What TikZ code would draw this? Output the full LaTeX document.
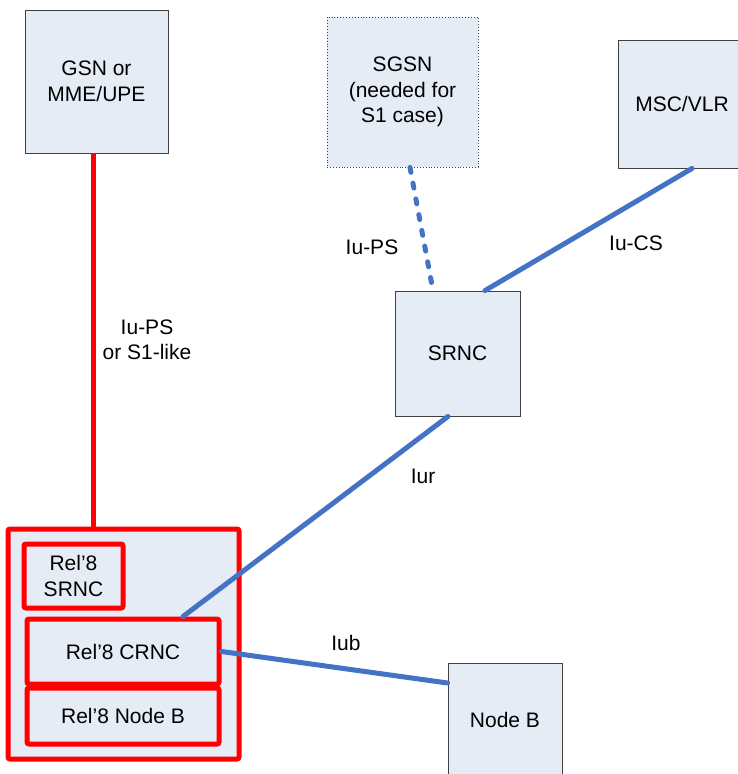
\documentclass[tikz,border=0pt]{standalone}
\usepackage{fontspec}
\setmainfont{Liberation Sans}
\definecolor{boxfill}{RGB}{230,236,246}
\definecolor{linkblue}{RGB}{68,114,196}

\begin{document}
\begin{tikzpicture}[x=1pt,y=-1pt,
		netbox/.style={draw=black!75,line width=0.9pt,fill=boxfill,align=center,inner sep=0pt,font=\fontsize{21}{25.5}\selectfont},
		redbox/.style={netbox,draw=red,line width=5pt,rounded corners=2pt},
		iface/.style={linkblue,line width=5pt,line cap=round},
		lbl/.style={align=center,font=\fontsize{21}{25.5}\selectfont}]
	\useasboundingbox (0,0) rectangle (738,774);
	% core side
	\node[netbox,minimum width=143pt,minimum height=143pt] (gsn) at (96.5,81.5) {GSN or\\MME/UPE};
	\node[netbox,dotted,minimum width=151pt,minimum height=150pt] (sgsn) at (402.5,92) {SGSN\\(needed for\\S1 case)};
	\node[netbox,minimum width=128pt,minimum height=128pt] (msc) at (682,104) {MSC/VLR};
	\node[netbox,minimum width=125pt,minimum height=125pt] (srnc) at (457.5,353.5) {SRNC};
	\node[netbox,minimum width=114pt,minimum height=114pt] (nodeb) at (505,720) {Node B};
	% Rel'8 box
	\node[redbox,minimum width=231pt,minimum height=230pt] (rel) at (123.5,644) {};
	\node[redbox,minimum width=99pt,minimum height=64pt] (relsrnc) at (73.5,576) {Rel’8\\SRNC};
	\node[redbox,minimum width=192pt,minimum height=65pt] (relcrnc) at (123,651.5) {Rel’8 CRNC};
	\node[redbox,minimum width=192pt,minimum height=56pt] (relnodeb) at (123,716) {Rel’8 Node B};
	% interfaces
	\draw[red,line width=5pt] ([xshift=-3.5pt]gsn.south) -- ([xshift=-3.5pt]gsn.south |- rel.north);
	\draw[iface,dash pattern=on 5pt off 11pt] ([xshift=7.5pt]sgsn.south) -- ([xshift=-24.5pt]srnc.north);
	\draw[iface] ([xshift=27.5pt]srnc.north) -- ([xshift=10pt]msc.south);
	\draw[iface] ([xshift=-9.5pt]srnc.south) -- ([xshift=60pt]relcrnc.north);
	\draw[iface] (relcrnc.east) -- ([yshift=37pt]nodeb.west);
	\node[lbl] (lpsa) at (147,340) {Iu-PS\\or S1-like};
	\node[lbl] (lpsb) at (372,247) {Iu-PS};
	\node[lbl] (lcs) at (636,243) {Iu-CS};
	\node[lbl] (lur) at (423,476) {Iur};
	\node[lbl] (lub) at (346,643) {Iub};
\end{tikzpicture}
\end{document}
